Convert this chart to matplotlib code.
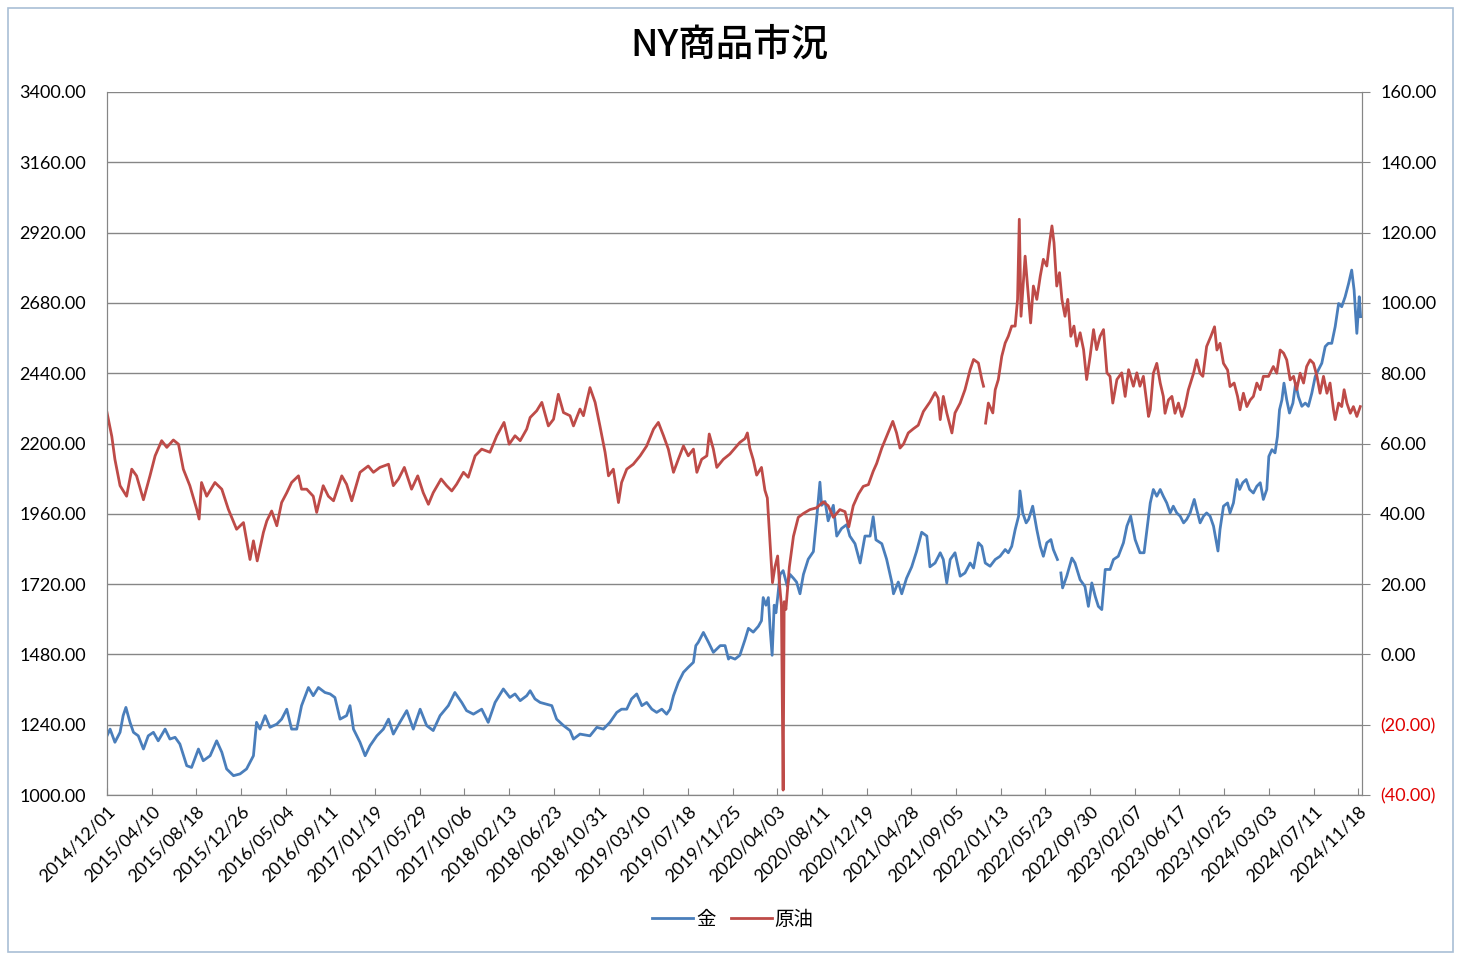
import matplotlib
matplotlib.use("Agg")
import matplotlib.pyplot as plt
import matplotlib.dates as mdates
from matplotlib.patches import Rectangle
import numpy as np

plt.rcParams['font.family'] = ['Lato', 'Noto Sans CJK JP', 'DejaVu Sans']

# days counted from 2014/12/01
gold_day = [0, 9, 23, 38, 47, 55, 67, 77, 91, 106, 120, 135, 149, 169, 183, 198, 212, 232, 246, 266,
            280, 300, 319, 334, 348, 368, 387, 406, 426, 435, 445, 460, 474, 494, 508, 523, 537, 552, 566, 586,
            600, 615, 634, 649, 663, 678, 697, 707, 717, 736, 751, 765, 785, 804, 819, 833, 852, 872, 891, 911,
            930, 949, 969, 993, 1012, 1032, 1046, 1066, 1090, 1109, 1129, 1153, 1172, 1187, 1202, 1221, 1231, 1245, 1260, 1279,
            1294, 1308, 1328, 1347, 1357, 1376, 1405, 1425, 1444, 1463, 1483, 1497, 1512, 1526, 1541, 1556, 1570, 1585, 1599, 1614,
            1628, 1638, 1648, 1662, 1677, 1691, 1706, 1713, 1720, 1735, 1750, 1764, 1784, 1798, 1808, 1812, 1827, 1841, 1856, 1866,
            1880, 1895, 1904, 1909, 1917, 1924, 1929, 1935, 1941, 1946, 1951, 1958, 1967, 1979, 1987, 1997, 2006, 2016, 2026, 2040,
            2055, 2066, 2074, 2079, 2089, 2098, 2113, 2123, 2137, 2152, 2161, 2176, 2191, 2205, 2220, 2229, 2237, 2254, 2268, 2283,
            2288, 2302, 2312, 2326, 2341, 2355, 2370, 2385, 2394, 2409, 2424, 2433, 2443, 2453, 2467, 2482, 2496, 2511, 2521, 2535,
            2545, 2555, 2569, 2584, 2598, 2613, 2622, 2632, 2642, 2652, 2656, 2664, 2674, 2681, 2693, 2705, 2715, 2724, 2734, 2746,
            2753, 2765, 2770, 2775, 2780, 2792, 2807, 2816, 2831, 2845, 2855, 2865, 2875, 2884, 2894, 2904, 2918, 2928, 2942, 2957,
            2967, 2978, 2991, 3005, 3017, 3030, 3035, 3044, 3054, 3064, 3073, 3083, 3093, 3102, 3112, 3122, 3132, 3141, 3151, 3163,
            3170, 3180, 3190, 3199, 3209, 3219, 3232, 3238, 3248, 3260, 3267, 3277, 3287, 3295, 3304, 3314, 3324, 3335, 3345, 3355,
            3364, 3374, 3380, 3389, 3398, 3405, 3411, 3418, 3424, 3432, 3440, 3450, 3458, 3466, 3476, 3486, 3495, 3505, 3515, 3524,
            3534, 3544, 3553, 3563, 3573, 3583, 3592, 3602, 3612, 3621, 3628, 3636, 3643, 3647]
gold_val = [1202, 1225, 1180, 1214, 1271, 1299, 1248, 1214, 1202, 1157, 1202, 1214, 1185, 1225, 1191, 1197, 1174, 1100, 1094, 1157,
            1117, 1134, 1185, 1146, 1089, 1066, 1072, 1089, 1134, 1248, 1225, 1271, 1231, 1242, 1259, 1293, 1225, 1225, 1305, 1367,
            1339, 1367, 1350, 1345, 1333, 1259, 1271, 1305, 1225, 1180, 1134, 1168, 1202, 1225, 1259, 1208, 1248, 1288, 1225, 1293,
            1237, 1220, 1271, 1305, 1350, 1316, 1288, 1276, 1293, 1248, 1316, 1362, 1333, 1345, 1322, 1339, 1356, 1328, 1316, 1310,
            1305, 1259, 1237, 1220, 1191, 1208, 1202, 1231, 1225, 1248, 1282, 1293, 1293, 1328, 1345, 1305, 1316, 1293, 1282, 1293,
            1276, 1293, 1339, 1384, 1419, 1436, 1453, 1510, 1521, 1555, 1521, 1487, 1510, 1510, 1464, 1471, 1464, 1477, 1530, 1569,
            1556, 1576, 1595, 1674, 1648, 1674, 1569, 1477, 1648, 1622, 1674, 1753, 1766, 1713, 1753, 1740, 1727, 1687, 1753, 1805,
            1831, 1963, 2068, 1989, 2002, 1936, 1989, 1884, 1910, 1923, 1884, 1858, 1792, 1884, 1884, 1950, 1871, 1858, 1805, 1727,
            1687, 1727, 1687, 1740, 1779, 1831, 1897, 1884, 1779, 1792, 1827, 1804, 1724, 1804, 1827, 1747, 1758, 1792, 1775, 1861,
            1849, 1792, 1781, 1804, 1815, 1838, 1827, 1849, 1906, 1952, 2038, 1963, 1929, 1941, 1986, 1906, 1849, 1815, 1861, 1872,
            1838, 1804, np.nan, 1758, 1707, 1747, 1809, 1792, 1735, 1712, 1644, 1724, 1678, 1644, 1633, 1770, 1770, 1804, 1815, 1861,
            1918, 1952, 1872, 1827, 1827, 1952, 1997, 2043, 2020, 2043, 2020, 1997, 1963, 1986, 1963, 1952, 1929, 1941, 1963, 2009,
            1975, 1929, 1952, 1963, 1952, 1918, 1833, 1907, 1986, 1997, 1963, 1997, 2077, 2043, 2066, 2077, 2043, 2031, 2054, 2066,
            2009, 2043, 2156, 2179, 2168, 2224, 2315, 2349, 2406, 2349, 2304, 2338, 2406, 2360, 2327, 2338, 2327, 2372, 2429, 2451,
            2474, 2531, 2542, 2542, 2599, 2678, 2667, 2701, 2746, 2792, 2724, 2576, 2701, 2633]

oil_day = [0, 14, 23, 38, 57, 72, 86, 106, 125, 140, 159, 174, 193, 208, 222, 241, 261, 268, 275, 290,
           314, 334, 353, 377, 397, 416, 426, 437, 455, 465, 479, 494, 508, 523, 537, 557, 566, 581, 600, 610,
           629, 644, 659, 683, 697, 712, 736, 760, 775, 794, 819, 833, 848, 865, 886, 904, 920, 935, 949, 972,
           988, 1003, 1017, 1037, 1051, 1071, 1090, 1114, 1134, 1155, 1170, 1187, 1202, 1221, 1231, 1250, 1265, 1284, 1299, 1313,
           1328, 1347, 1357, 1376, 1386, 1405, 1420, 1434, 1449, 1459, 1473, 1488, 1497, 1512, 1531, 1551, 1570, 1590, 1604, 1619,
           1633, 1648, 1662, 1677, 1691, 1706, 1716, 1730, 1745, 1752, 1764, 1774, 1793, 1812, 1827, 1841, 1856, 1863, 1870, 1880,
           1890, 1904, 1914, 1921, 1929, 1936, 1943, 1951, 1956, 1962, 1967, 1970, 1975, 1985, 1997, 2011, 2026, 2045, 2064, 2084,
           2098, 2113, 2132, 2147, 2158, 2171, 2186, 2200, 2215, 2229, 2239, 2254, 2268, 2286, 2297, 2307, 2317, 2331, 2346, 2360,
           2375, 2394, 2409, 2418, 2424, 2433, 2443, 2458, 2467, 2482, 2496, 2511, 2521, 2535, 2545, 2550, 2553, 2556, 2564, 2577,
           2584, 2593, 2603, 2613, 2622, 2632, 2642, 2649, 2654, 2659, 2671, 2678, 2687, 2695, 2705, 2715, 2724, 2734, 2742, 2749,
           2755, 2763, 2771, 2778, 2787, 2795, 2804, 2813, 2821, 2831, 2841, 2850, 2860, 2870, 2879, 2889, 2899, 2909, 2918, 2926,
           2938, 2952, 2962, 2972, 2986, 2996, 3005, 3015, 3030, 3035, 3044, 3054, 3064, 3073, 3078, 3088, 3098, 3107, 3117, 3127,
           3136, 3146, 3161, 3170, 3180, 3188, 3199, 3211, 3222, 3229, 3238, 3248, 3260, 3267, 3279, 3289, 3296, 3306, 3316, 3326,
           3335, 3345, 3355, 3364, 3379, 3393, 3403, 3413, 3423, 3432, 3442, 3452, 3461, 3471, 3481, 3490, 3500, 3510, 3520, 3529,
           3539, 3549, 3558, 3563, 3568, 3573, 3583, 3592, 3599, 3607, 3617, 3626, 3636, 3646]
oil_val = [68.8, 62, 55.5, 48, 45, 52.7, 50.8, 44, 50.8, 56.5, 60.8, 58.9, 61, 59.8, 52.7, 48, 41.3, 38.5, 48.9, 45,
           48.9, 47, 41.3, 35.6, 37.5, 27, 32.3, 26.6, 34.7, 38, 40.8, 36.6, 43.2, 46, 48.9, 50.8, 47, 47, 45, 40.4,
           48, 45, 43.7, 50.8, 48.4, 43.7, 51.8, 53.6, 51.8, 53.2, 54.1, 48, 49.9, 53.2, 47, 50.8, 46, 42.7, 46, 49.9,
           48, 46.5, 48.4, 51.8, 50.4, 56.5, 58.4, 57.5, 62.2, 66, 59.8, 62.2, 60.8, 64.1, 67.4, 69.3, 71.7, 65, 66.9, 74,
           68.8, 67.9, 65, 69.8, 67.9, 75.9, 71.7, 65, 57.5, 50.8, 52.7, 43.2, 48.9, 52.7, 54.1, 56.5, 59.3, 64.1, 66, 62.2,
           58.4, 51.8, 55.5, 59.3, 56.5, 58.4, 51.8, 55.5, 56.5, 62.7, 58.4, 53.2, 55.5, 57, 58.7, 60.3, 61.4, 63, 58.7, 55.4,
           51, 53.2, 46.7, 44.5, 31.4, 20.4, 24.8, 28, 20.4, 13.9, -38.6, 15, 12.8, 24.8, 33.6, 39, 40.1, 41.2, 41.7, 43.4,
           42.3, 39, 41.2, 40.6, 36.3, 42.3, 45.6, 47.8, 48.3, 52.1, 54.3, 58.7, 62, 66.3, 63, 58.7, 59.8, 63, 64.2, 65.2,
           69.1, 71.8, 74.5, 72.9, 66.8, 73.4, 68.7, 63, 68.7, 71.5, 75.3, 81, 83.9, 82.9, 78.2, 76.3, np.nan, 65.8, 71.5, 68.7,
           75.3, 78.2, 84.8, 88.6, 90.5, 93.4, 93.4, 101, 123.8, 96.2, 113.3, 104.8, 94.3, 104.8, 101, 107.6, 112.4, 110.5, 117.1, 121.9,
           117.1, 104.8, 108.6, 101, 96.2, 101, 90.5, 93.4, 87.7, 91.5, 86.7, 78.2, 84.8, 92.4, 86.7, 90.5, 92.4, 80.1, 79.1, 71.5,
           78.2, 80.1, 73.4, 81, 76.3, 80.1, 76.3, 79.1, 67.7, 69.6, 80, 82.8, 77.2, 73.4, 68.6, 72.4, 73.4, 68.6, 71.5, 67.7,
           70.5, 75.3, 80, 83.8, 80, 79.1, 87.6, 90.4, 93.2, 86.6, 88.5, 82.8, 80.9, 76.2, 77.2, 73.4, 69.6, 74.3, 70.5, 72.4,
           73.4, 77.2, 75.3, 79.1, 79.1, 81.9, 80, 86.6, 85.7, 83.8, 78.1, 79.1, 75.3, 80, 77.2, 81.9, 83.8, 82.8, 79.1, 74.3,
           79.1, 74.3, 77.2, 73.4, 69.6, 66.8, 71.5, 70.5, 75.3, 71.5, 68.6, 70.5, 67.7, 70.5]

start = np.datetime64('2014-12-01')
gold_x = start + np.array(gold_day).astype('timedelta64[D]')
oil_x = start + np.array(oil_day).astype('timedelta64[D]')

gold_ticks = [1000, 1240, 1480, 1720, 1960, 2200, 2440, 2680, 2920, 3160, 3400]
oil_ticks = [-40, -20, 0, 20, 40, 60, 80, 100, 120, 140, 160]
date_ticks = start + np.arange(0, 29 * 130, 130).astype('timedelta64[D]')

fig = plt.figure(figsize=(14.6, 9.6), dpi=100)
ax = fig.add_axes([107 / 1460, 1 - 795 / 960, 1255 / 1460, 703 / 960])
ax2 = ax.twinx()

ax.plot(gold_x, gold_val, color='#4A7EBB', lw=2, label='金')
ax2.plot(oil_x, oil_val, color='#BE4B48', lw=2, label='原油')

ax.set_ylim(1000, 3400)
ax2.set_ylim(-40, 160)
ax.set_yticks(gold_ticks)
ax.set_yticklabels([f'{v:.2f}' for v in gold_ticks])
ax2.set_yticks(oil_ticks)
ax2.set_yticklabels([f'({abs(v):.2f})' if v < 0 else f'{v:.2f}' for v in oil_ticks])
for lab, v in zip(ax2.get_yticklabels(), oil_ticks):
    if v < 0:
        lab.set_color('#E00000')

ax.set_xlim(start, start + np.timedelta64(3651, 'D'))
ax.set_xticks(date_ticks)
ax.xaxis.set_major_formatter(mdates.DateFormatter('%Y/%m/%d'))
plt.setp(ax.get_xticklabels(), rotation=45, ha='right', rotation_mode='anchor')

ax.grid(axis='y', color='#868686', lw=1)
ax.set_axisbelow(True)
for a in (ax, ax2):
    a.spines['top'].set_visible(False)
    for s in ('left', 'right', 'bottom'):
        a.spines[s].set_color('#868686')
ax.tick_params(axis='x', direction='in', length=5, color='#868686', labelsize=13, pad=6)
ax.tick_params(axis='y', length=0, labelsize=13, pad=15)
ax2.tick_params(axis='y', length=6, color='#868686', labelsize=13, pad=7)

fig.text(0.5, 1 - 45 / 960, 'NY商品市況', ha='center', va='center', fontsize=27,
         family=['Noto Sans CJK JP'], weight='medium')

h1, l1 = ax.get_legend_handles_labels()
h2, l2 = ax2.get_legend_handles_labels()
fig.legend(h1 + h2, l1 + l2, loc='center', bbox_to_anchor=(733 / 1460, 1 - 919 / 960), ncol=2,
           frameon=False, fontsize=14, handlelength=2.1, columnspacing=0.8, handletextpad=0.15)

fig.patches.append(Rectangle((8 / 1460, 8 / 960), 1445 / 1460, 944 / 960, transform=fig.transFigure,
                             fill=False, edgecolor='#A9BFD6', lw=1.2))

fig.savefig('out.png', dpi=100)
